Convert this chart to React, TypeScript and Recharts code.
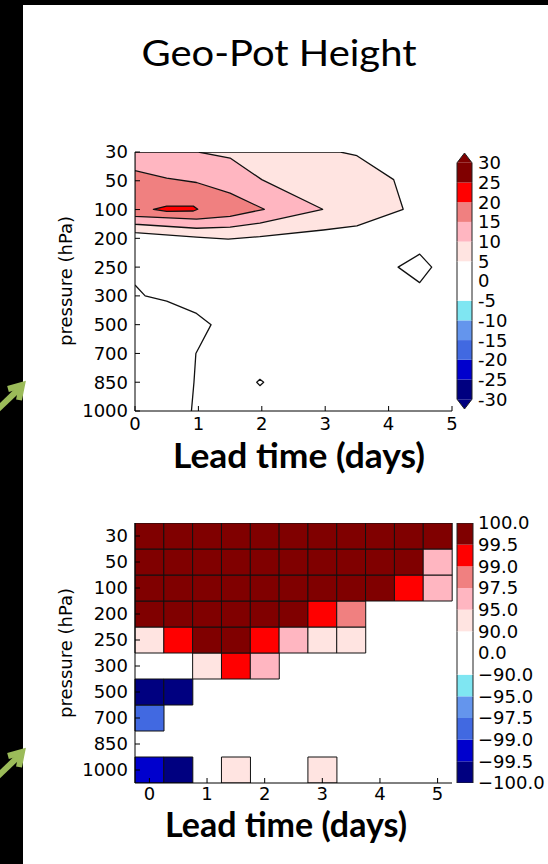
import React from "react";
import { ComposedChart, Scatter, BarChart, Bar, Cell, XAxis, YAxis } from "recharts";

const FONT = "DejaVu Sans";

// shared axis values
const pressureLevels = ["30", "50", "100", "200", "250", "300", "500", "700", "850", "1000"];
const dayTicks = [0, 1, 2, 3, 4, 5];
const levelIdx = [0, 1, 2, 3, 4, 5, 6, 7, 8, 9];

// contour panel, points are [lead day, pressure level index] (0 = 30 hPa)
const fill5 = [[0, 0], [3.24, 0], [3.5, 0.13], [4.08, 0.96], [4.23, 1.99], [3.5, 2.57], [2.97, 2.71], [1.97, 2.94], [1.47, 3.03], [0.97, 2.96], [0, 2.8]];
const fill10 = [[0, 0], [1, 0], [1.5, 0.21], [2, 0.96], [2.96, 1.99], [1.97, 2.47], [1.5, 2.61], [0.97, 2.65], [0, 2.51]];
const fill15 = [[0, 0.65], [0.5, 0.91], [0.97, 1.06], [1.5, 1.43], [2.04, 1.99], [1.5, 2.24], [0.97, 2.33], [0, 2.24]];
const fill20 = [[0.29, 1.99], [0.5, 1.88], [0.92, 1.88], [0.99, 1.99], [0.92, 2.05], [0.5, 2.06]];
const ring250 = [[4.15, 4.0], [4.49, 3.55], [4.68, 4.0], [4.49, 4.54]];
const ring850 = [[1.92, 8.0], [1.97, 7.9], [2.03, 8.0], [1.97, 8.12]];
const zeroLine = [[0, 4.62], [0.16, 5.0], [0.5, 5.18], [0.97, 5.61], [1.2, 6.0], [0.96, 7.0], [0.93, 8.0], [0.89, 9.0]];

const contourLevels = [-30, -25, -20, -15, -10, -5, 0, 5, 10, 15, 20, 25, 30];
const bandColors = ["#000080", "#0000cd", "#4169e1", "#6495ed", "#7fe6f2", "#ffffff", "#ffffff", "#ffe4e1", "#ffb6c1", "#f08080", "#ff0000", "#800000"];

// significance panel (percent), rows top -> bottom, null = no cell
const heatDays = [0, 0.5, 1, 1.5, 2, 2.5, 3, 3.5, 4, 4.5, 5];
const sig30 = [99.8, 99.8, 99.8, 99.8, 99.8, 99.8, 99.8, 99.8, 99.8, 99.8, 99.8];
const sig50 = [99.8, 99.8, 99.8, 99.8, 99.8, 99.8, 99.8, 99.8, 99.8, 99.8, 96];
const sig100 = [99.8, 99.8, 99.8, 99.8, 99.8, 99.8, 99.8, 99.8, 99.8, 99.2, 96];
const sig200 = [99.8, 99.8, 99.8, 99.8, 99.8, 99.8, 99.2, 98, null, null, null];
const sig250 = [92, 99.2, 99.8, 99.8, 99.2, 96, 92, 92, null, null, null];
const sig300 = [null, null, 92, 99.2, 96, null, null, null, null, null, null];
const sig500 = [-99.8, -99.8, null, null, null, null, null, null, null, null, null];
const sig700 = [-98, null, null, null, null, null, null, null, null, null, null];
const sig850 = [null, null, null, null, null, null, null, null, null, null, null];
const sig1000 = [-99.2, -99.8, null, 92, null, null, 92, null, null, null, null];
const heatRows = [sig30, sig50, sig100, sig200, sig250, sig300, sig500, sig700, sig850, sig1000];
const sigLevels = [-100, -99.5, -99, -97.5, -95, -90, 0, 90, 95, 97.5, 99, 99.5, 100];

function colorOf(v: number, bounds: number[]) {
  for (let i = 0; i < bounds.length - 1; i++) {
    if (v >= bounds[i] && v < bounds[i + 1]) return bandColors[i];
  }
  return v < bounds[0] ? bandColors[0] : bandColors[bandColors.length - 1];
}

const toPts = (arr: number[][]) => arr.map(([x, y]) => ({ x, y }));

// heatmap rows stacked bottom (1000 hPa) to top (30 hPa)
const rowsBottomUp = [...heatRows].reverse();
const heatData = heatDays.map((t) => {
  const d: any = { t };
  rowsBottomUp.forEach((_, k) => (d[`h${k}`] = 1));
  return d;
});
const rowTicks = levelIdx.map((i) => i + 0.5);

// colorbars
const cbTopData = [
  (() => {
    const d: any = { n: "cb", lo: 0.5, hi: 0.5 };
    bandColors.forEach((_, i) => (d[`b${i}`] = 1));
    return d;
  })(),
];
const cbBotData = [
  (() => {
    const d: any = { n: "cb" };
    bandColors.forEach((_, i) => (d[`b${i}`] = 1));
    return d;
  })(),
];

const txt = { fontSize: 18, fontFamily: FONT, fill: "#000" };

function bottomTick(margin: number, onlyInt: boolean) {
  return (p: any) => {
    const v = p.payload.value;
    if (onlyInt && !Number.isInteger(v)) return <g />;
    const ay = p.y - margin;
    return (
      <g>
        <line x1={p.x} x2={p.x} y1={ay} y2={ay - 5} stroke="#000" />
        <text x={p.x} y={p.y} dy={13} textAnchor="middle" {...txt}>{String(v)}</text>
      </g>
    );
  };
}

function leftTick(margin: number, label: (v: number) => string) {
  return (p: any) => {
    const ax = p.x + margin;
    return (
      <g>
        <line x1={ax} x2={ax + 5} y1={p.y} y2={p.y} stroke="#000" />
        <text x={p.x} y={p.y} dy="0.36em" textAnchor="end" {...txt}>{label(p.payload.value)}</text>
      </g>
    );
  };
}

const topMark = (p: any) => <line x1={p.x} x2={p.x} y1={p.y} y2={p.y + 5} stroke="#000" />;
const rightMark = (p: any) => <line x1={p.x - 5} x2={p.x} y1={p.y} y2={p.y} stroke="#000" />;

function cbLabel(label: (v: number) => string) {
  return (p: any) => (
    <text x={p.x} y={p.y} dy="0.36em" textAnchor="start" {...txt}>{label(p.payload.value)}</text>
  );
}

const noDot = () => <g />;

function polyLine(fill: string, closed: boolean) {
  return (lp: any) => {
    const pts = lp.points || [];
    const d = pts.map((pt: any, i: number) => `${i ? "L" : "M"}${pt.x},${pt.y}`).join(" ") + (closed ? " Z" : "");
    return <path d={d} fill={fill} stroke="#111" strokeWidth={1.3} strokeLinejoin="round" />;
  };
}

function cbBlock(edgeTop: boolean, edgeBottom: boolean) {
  return (p: any) => {
    const { x, y, width: w, height: h, fill } = p;
    return (
      <g>
        <rect x={x} y={y} width={w} height={h} fill={fill} />
        <line x1={x} x2={x} y1={y} y2={y + h} stroke="#222" />
        <line x1={x + w} x2={x + w} y1={y} y2={y + h} stroke="#222" />
        {edgeTop && <line x1={x} x2={x + w} y1={y} y2={y} stroke="#222" />}
        {edgeBottom && <line x1={x} x2={x + w} y1={y + h} y2={y + h} stroke="#222" />}
      </g>
    );
  };
}

function cbArrow(up: boolean) {
  return (p: any) => {
    const { x, y, width: w, height: h, fill } = p;
    const d = up
      ? `M${x},${y + h} L${x + w / 2},${y} L${x + w},${y + h}`
      : `M${x},${y} L${x + w / 2},${y + h} L${x + w},${y}`;
    return <path d={d} fill={fill} stroke="#222" />;
  };
}

function ContourPanel() {
  return (
    <ComposedChart width={420} height={300} margin={{ top: 12, right: 8, bottom: 0, left: 40 }}>
      <XAxis xAxisId={0} type="number" dataKey="x" domain={[0, 5]} ticks={dayTicks} interval={0} allowDataOverflow
        height={29} tickSize={0} tickMargin={6} tickLine={false} axisLine={{ stroke: "#000" }} tick={bottomTick(6, false)} />
      <XAxis xAxisId="top" orientation="top" type="number" domain={[0, 5]} ticks={dayTicks} interval={0} allowDataOverflow
        height={0} tickSize={0} tickMargin={0} tickLine={false} axisLine={{ stroke: "#000" }} tick={topMark} />
      <YAxis yAxisId={0} type="number" dataKey="y" domain={[0, 9]} reversed ticks={levelIdx} interval={0} allowDataOverflow
        width={55} tickSize={0} tickMargin={7} tickLine={false} axisLine={{ stroke: "#000" }}
        tick={leftTick(7, (v) => pressureLevels[v])} />
      <YAxis yAxisId="right" orientation="right" type="number" domain={[0, 9]} reversed ticks={levelIdx} interval={0} allowDataOverflow
        width={0} tickSize={0} tickMargin={0} tickLine={false} axisLine={{ stroke: "#000" }} tick={rightMark} />
      <Scatter data={toPts(fill5)} shape={noDot} line={polyLine("#ffe4e1", true)} isAnimationActive={false} />
      <Scatter data={toPts(fill10)} shape={noDot} line={polyLine("#ffb6c1", true)} isAnimationActive={false} />
      <Scatter data={toPts(fill15)} shape={noDot} line={polyLine("#f08080", true)} isAnimationActive={false} />
      <Scatter data={toPts(fill20)} shape={noDot} line={polyLine("#ff0000", true)} isAnimationActive={false} />
      <Scatter data={toPts(ring250)} shape={noDot} line={polyLine("none", true)} isAnimationActive={false} />
      <Scatter data={toPts(ring850)} shape={noDot} line={polyLine("none", true)} isAnimationActive={false} />
      <Scatter data={toPts(zeroLine)} shape={noDot} line={polyLine("none", false)} isAnimationActive={false} />
    </ComposedChart>
  );
}

function HeatPanel() {
  return (
    <BarChart width={420} height={320} margin={{ top: 33, right: 8, bottom: 0, left: 40 }} data={heatData}
      barCategoryGap={0} barGap={0}>
      <XAxis dataKey="t" type="category" interval={0} height={27} tickSize={0} tickMargin={4} tickLine={false}
        axisLine={{ stroke: "#000" }} tick={bottomTick(4, true)} />
      <YAxis type="number" domain={[0, 10]} ticks={rowTicks} interval={0} allowDataOverflow width={55}
        tickSize={0} tickMargin={7} tickLine={false} axisLine={{ stroke: "#000" }}
        tick={leftTick(7, (v) => pressureLevels[9 - Math.floor(v)])} />
      <YAxis yAxisId="right" orientation="right" type="number" domain={[0, 10]} ticks={rowTicks} interval={0} allowDataOverflow
        width={0} tickSize={0} tickMargin={0} tickLine={false} axisLine={{ stroke: "#000" }} tick={rightMark} />
      {rowsBottomUp.map((row, k) => (
        <Bar key={k} dataKey={`h${k}`} stackId="s" isAnimationActive={false}>
          {row.map((v, i) => (
            <Cell key={i} fill={v == null ? "none" : colorOf(v, sigLevels)} stroke={v == null ? "none" : "#111"} strokeWidth={1} />
          ))}
        </Bar>
      ))}
    </BarChart>
  );
}

function TopColorbar() {
  return (
    <BarChart width={108} height={280} margin={{ top: 13, right: 6, bottom: 11, left: 17 }} data={cbTopData} barCategoryGap={0}>
      <XAxis dataKey="n" hide />
      <YAxis type="number" domain={[0, 13]} allowDataOverflow hide />
      <YAxis yAxisId="lab" orientation="right" type="number" domain={[0, 13]} allowDataOverflow
        ticks={contourLevels.map((_, i) => i + 0.5)} interval={0} width={70} tickSize={0} tickMargin={6}
        tickLine={false} axisLine={false} tick={cbLabel((v) => String(contourLevels[Math.floor(v)]))} />
      <Bar dataKey="lo" stackId="c" fill={bandColors[0]} shape={cbArrow(false)} isAnimationActive={false} />
      {bandColors.map((c, i) => (
        <Bar key={i} dataKey={`b${i}`} stackId="c" fill={c} shape={cbBlock(false, false)} isAnimationActive={false} />
      ))}
      <Bar dataKey="hi" stackId="c" fill={bandColors[bandColors.length - 1]} shape={cbArrow(true)} isAnimationActive={false} />
    </BarChart>
  );
}

function BottomColorbar() {
  return (
    <BarChart width={108} height={300} margin={{ top: 23, right: 5, bottom: 17, left: 17 }} data={cbBotData} barCategoryGap={0}>
      <XAxis dataKey="n" hide />
      <YAxis type="number" domain={[0, 12]} allowDataOverflow hide />
      <YAxis yAxisId="lab" orientation="right" type="number" domain={[0, 12]} allowDataOverflow
        ticks={sigLevels.map((_, i) => i)} interval={0} width={70} tickSize={0} tickMargin={5}
        tickLine={false} axisLine={false}
        tick={cbLabel((v) => sigLevels[v].toFixed(1).replace("-", "\u2212"))} />
      {bandColors.map((c, i) => (
        <Bar key={i} dataKey={`b${i}`} stackId="c" fill={c}
          shape={cbBlock(i === bandColors.length - 1, i === 0)} isAnimationActive={false} />
      ))}
    </BarChart>
  );
}

function Arrow({ tipY }: { tipY: number }) {
  return (
    <g stroke="#9bbb59" strokeWidth={6} fill="none" strokeLinejoin="miter">
      <line x1={-4} y1={tipY + 26} x2={21} y2={tipY + 2} />
      <polyline points={`8,${tipY + 4} 22,${tipY} 19,${tipY + 15}`} />
    </g>
  );
}

export default function App() {
  return (
    <div style={{ position: "absolute", left: 0, top: 0, width: 548, height: 864, background: "#fff", overflow: "hidden" }}>
      <div style={{ position: "absolute", left: 40, top: 140 }}><ContourPanel /></div>
      <div style={{ position: "absolute", left: 440, top: 140 }}><TopColorbar /></div>
      <div style={{ position: "absolute", left: 40, top: 490 }}><HeatPanel /></div>
      <div style={{ position: "absolute", left: 440, top: 500 }}><BottomColorbar /></div>
      <svg width={548} height={864} style={{ position: "absolute", left: 0, top: 0, pointerEvents: "none" }}>
        <rect x={0} y={0} width={23} height={864} fill="#000" />
        <rect x={0} y={0} width={548} height={5} fill="#000" />
        <Arrow tipY={385} />
        <Arrow tipY={752} />
        <text x={279} y={66} textAnchor="middle" fontFamily="Lato" fontSize={37} textLength={275} lengthAdjust="spacingAndGlyphs" fill="#000">Geo-Pot Height</text>
        <text x={299} y={468} textAnchor="middle" fontFamily="Lato" fontWeight="bold" fontSize={34} textLength={252} lengthAdjust="spacingAndGlyphs" fill="#000">Lead time (days)</text>
        <text x={286} y={837} textAnchor="middle" fontFamily="Lato" fontWeight="bold" fontSize={34} textLength={242} lengthAdjust="spacingAndGlyphs" fill="#000">Lead time (days)</text>
        <text transform="translate(72,281) rotate(-90)" textAnchor="middle" fontFamily={FONT} fontSize={18} fill="#000">pressure (hPa)</text>
        <text transform="translate(72,653) rotate(-90)" textAnchor="middle" fontFamily={FONT} fontSize={18} fill="#000">pressure (hPa)</text>
      </svg>
    </div>
  );
}
